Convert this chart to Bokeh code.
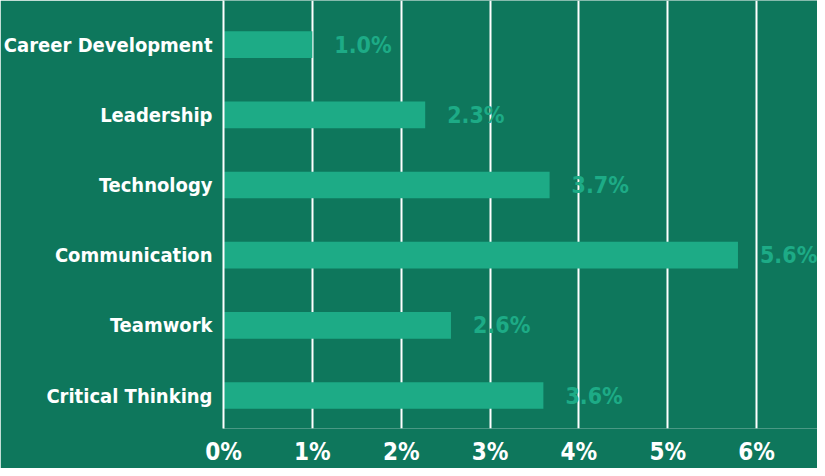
from bokeh.plotting import figure
from bokeh.models import ColumnDataSource, Range1d, FixedTicker
from bokeh.core.properties import value
from bokeh.embed import file_html
from bokeh.resources import INLINE

categories = ["Critical Thinking", "Teamwork", "Communication", "Technology", "Leadership", "Career Development"]
values = [3.6, 2.56, 5.79, 3.67, 2.27, 1.0]
value_labels = ["3.6%", "2.6%", "5.6%", "3.7%", "2.3%", "1.0%"]
x_ticks = [0, 1, 2, 3, 4, 5, 6]
x_tick_labels = ["0%", "1%", "2%", "3%", "4%", "5%", "6%"]

BG = "#0e775c"
BAR = "#1dab86"
FONT = "DejaVu Sans Condensed"

pos = list(range(len(categories)))
src = ColumnDataSource(dict(y=pos, v=values, lab=value_labels))

p = figure(width=817, height=468, output_backend="svg", toolbar_location=None,
           x_range=Range1d(0, 6.685), y_range=Range1d(-0.47, 5.63),
           min_border_left=222, min_border_right=0, min_border_top=0, min_border_bottom=0)
p.background_fill_color = BG
p.border_fill_color = BG
p.outline_line_color = None

p.hbar(y="y", right="v", left=0, height=0.38, source=src, color=BAR, line_color=None)
p.text(x="v", y="y", text="lab", source=src, x_offset=22, text_align="left",
       text_baseline="middle", text_color=BAR, text_font=value(FONT),
       text_font_style="bold", text_font_size="23px")

p.xgrid.ticker = FixedTicker(ticks=x_ticks)
p.xgrid.grid_line_color = "white"
p.xgrid.grid_line_width = 2
p.ygrid.grid_line_color = None

p.xaxis.ticker = FixedTicker(ticks=x_ticks)
p.xaxis.major_label_overrides = {t: l for t, l in zip(x_ticks, x_tick_labels)}
p.xaxis.axis_line_color = None
p.xaxis.major_tick_line_color = None
p.xaxis.minor_tick_line_color = None
p.xaxis.major_label_text_color = "white"
p.xaxis.major_label_text_font = FONT
p.xaxis.major_label_text_font_style = "bold"
p.xaxis.major_label_text_font_size = "24px"
p.xaxis.major_label_standoff = 3

p.yaxis.ticker = FixedTicker(ticks=pos)
p.yaxis.major_label_overrides = {i: c for i, c in zip(pos, categories)}
p.yaxis.axis_line_color = "white"
p.yaxis.axis_line_width = 2
p.yaxis.major_tick_line_color = None
p.yaxis.minor_tick_line_color = None
p.yaxis.major_label_text_color = "white"
p.yaxis.major_label_text_font = FONT
p.yaxis.major_label_text_font_style = "bold"
p.yaxis.major_label_text_font_size = "20px"
p.yaxis.major_label_standoff = 5

open("out.html", "w").write(file_html(p, INLINE))
